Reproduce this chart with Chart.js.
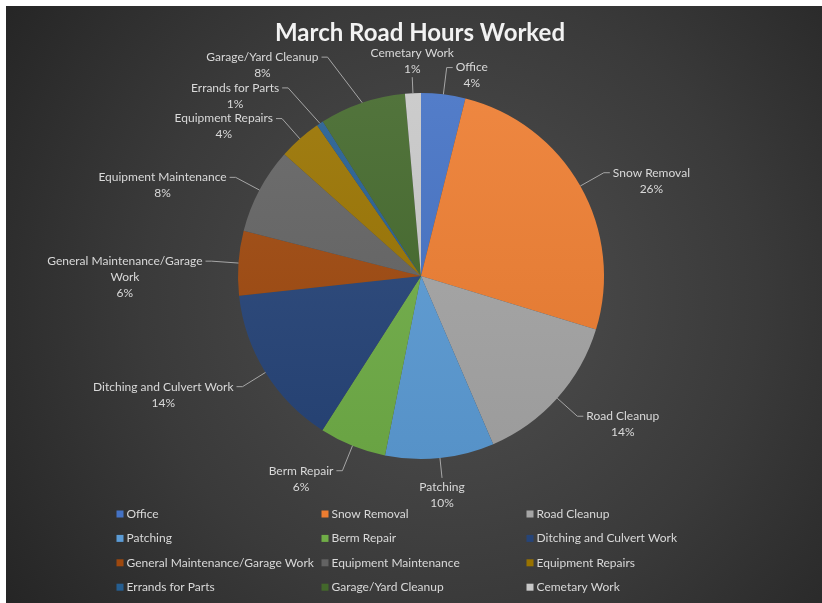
<!DOCTYPE html>
<html>
<head>
<meta charset="utf-8">
<script src="https://cdn.jsdelivr.net/npm/chart.js@4/dist/chart.umd.min.js"></script>
<style>
  html, body { margin: 0; padding: 0; background: #ffffff; }
  #wrap { width: 822px; height: 603px; position: relative; }
  canvas { display: block; }
</style>
</head>
<body>
<div id="wrap"><canvas id="c" width="822" height="603"></canvas></div>
<script>
// ---- data ----
const chartTitle = 'March Road Hours Worked';
const categories = [
  'Office', 'Snow Removal', 'Road Cleanup', 'Patching', 'Berm Repair',
  'Ditching and Culvert Work', 'General Maintenance/Garage Work',
  'Equipment Maintenance', 'Equipment Repairs', 'Errands for Parts',
  'Garage/Yard Cleanup', 'Cemetary Work'
];
const hours = [39, 258, 138, 96, 59, 142, 57, 76, 38, 6, 76, 14];
const sliceColors = [
  '#4472C4', '#ED7D31', '#A5A5A5', '#5B9BD5', '#70AD47', '#264478',
  '#9E480E', '#636363', '#997300', '#255E91', '#43682B', '#C8C8C8'
];

// ---- helpers ----
const FONT = 'Lato, "Open Sans", sans-serif';
const TEXT_COLOR = '#D9D9D9';
const LEADER_COLOR = '#A6A6A6';
const LH = 16;

function shade(hex, amt) {
  const n = parseInt(hex.slice(1), 16);
  const r = (n >> 16) & 255, g = (n >> 8) & 255, b = n & 255;
  const f = (c) => amt >= 0 ? Math.round(c + (255 - c) * amt) : Math.round(c * (1 + amt));
  return 'rgb(' + f(r) + ',' + f(g) + ',' + f(b) + ')';
}

function wrapText(ctx, text, maxW) {
  const words = text.split(' ');
  const lines = [];
  let cur = '';
  for (const w of words) {
    const test = cur ? cur + ' ' + w : w;
    if (ctx.measureText(test).width > maxW && cur) { lines.push(cur); cur = w; }
    else cur = test;
  }
  if (cur) lines.push(cur);
  return lines;
}

// ---- plugins ----
const backgroundPlugin = {
  id: 'bgPlugin',
  beforeDraw(chart) {
    const { ctx, width, height } = chart;
    ctx.save();
    ctx.fillStyle = '#ffffff';
    ctx.fillRect(0, 0, width, height);
    const g = ctx.createRadialGradient(450, 300, 0, 450, 300, 560);
    g.addColorStop(0, '#505050');
    g.addColorStop(0.55, '#3a3a3a');
    g.addColorStop(1, '#232323');
    ctx.fillStyle = g;
    ctx.fillRect(6, 6, width - 6, height - 6);
    ctx.restore();
  }
};

const titlePlugin = {
  id: 'titlePlugin',
  afterDraw(chart) {
    const { ctx } = chart;
    const cx = (chart.chartArea.left + chart.chartArea.right) / 2;
    ctx.save();
    ctx.font = 'bold 24px ' + FONT;
    ctx.fillStyle = '#F2F2F2';
    ctx.textAlign = 'center';
    ctx.textBaseline = 'middle';
    ctx.fillText(chartTitle, cx - 1, 33);
    ctx.restore();
  }
};

function layoutLines(ctx, it) {
  const ws = it.lines.map(l => ctx.measureText(l).width);
  const w = Math.max(...ws);
  let centerX, firstY;
  if (it.type === 'right') { centerX = it.A.x + 9 + w / 2; firstY = it.A.y; }
  else if (it.type === 'left') { centerX = it.A.x - 9 - w / 2; firstY = it.A.y; }
  else if (it.type === 'top') { centerX = it.A.x; firstY = it.A.y - 8 - (it.lines.length - 1) * LH; }
  else { centerX = it.A.x; firstY = it.A.y + 9; }
  return it.lines.map((t, k) => ({
    t, x: centerX, y: firstY + k * LH,
    x1: centerX - ws[k] / 2 - 2, x2: centerX + ws[k] / 2 + 2,
    y1: firstY + k * LH - 7, y2: firstY + k * LH + 7
  }));
}

function collides(a, b) {
  return a.some(p => b.some(q => p.x1 < q.x2 && q.x1 < p.x2 && p.y1 < q.y2 && q.y1 < p.y2));
}

const labelPlugin = {
  id: 'pieLabels',
  afterDatasetsDraw(chart) {
    const { ctx } = chart;
    const meta = chart.getDatasetMeta(0);
    const total = hours.reduce((a, b) => a + b, 0);
    ctx.save();
    ctx.font = '12px ' + FONT;
    const items = meta.data.map((arc, i) => {
      const p = arc.getProps(['x', 'y', 'startAngle', 'endAngle', 'outerRadius'], true);
      const mid = (p.startAngle + p.endAngle) / 2;
      const ux = Math.cos(mid), uy = Math.sin(mid);
      const r = p.outerRadius;
      const E = { x: p.x + r * ux, y: p.y + r * uy };
      const pct = Math.round(hours[i] / total * 100) + '%';
      const lines = wrapText(ctx, categories[i], 160);
      lines.push(pct);
      let type, L;
      if (Math.abs(ux) < 0.115) { type = uy < 0 ? 'top' : 'bottom'; L = uy < 0 ? 16 : 20; }
      else { type = ux > 0 ? 'right' : 'left'; L = 27; }
      const A = { x: p.x + (r + L) * ux, y: p.y + (r + L) * uy };
      return { i, E, A, cy: p.y, lines, type };
    });

    // place labels, nudging up/down and outward on collision
    const placed = [];
    items.filter(it => it.type === 'top' || it.type === 'bottom').forEach(it => {
      it.boxes = layoutLines(ctx, it); placed.push(it.boxes);
    });
    ['left', 'right'].forEach(side => {
      const sx = side === 'left' ? -1 : 1;
      const list = items.filter(it => it.type === side);
      const upper = list.filter(it => it.A.y < it.cy).sort((a, b) => b.A.y - a.A.y);
      const lower = list.filter(it => it.A.y >= it.cy).sort((a, b) => a.A.y - b.A.y);
      [[upper, -1], [lower, 1]].forEach(([grp, dy]) => {
        grp.forEach(it => {
          let bx = layoutLines(ctx, it), n = 0;
          while (placed.some(pb => collides(bx, pb)) && n < 200) {
            it.A.y += dy; it.A.x += sx * 1.3; n++;
            bx = layoutLines(ctx, it);
          }
          it.boxes = bx; placed.push(bx);
        });
      });
    });

    ctx.strokeStyle = LEADER_COLOR;
    ctx.lineWidth = 1;
    ctx.fillStyle = TEXT_COLOR;
    ctx.textBaseline = 'middle';
    ctx.textAlign = 'center';
    items.forEach(it => {
      ctx.beginPath();
      ctx.moveTo(it.E.x, it.E.y);
      ctx.lineTo(it.A.x, it.A.y);
      if (it.type === 'right') ctx.lineTo(it.A.x + 6, it.A.y);
      if (it.type === 'left') ctx.lineTo(it.A.x - 6, it.A.y);
      ctx.stroke();
      it.boxes.forEach(b => ctx.fillText(b.t, b.x, b.y));
    });
    ctx.restore();
  }
};

const legendPlugin = {
  id: 'gridLegend',
  afterDraw(chart) {
    const { ctx } = chart;
    const cols = 3, colW = 205, rowH = 24.4;
    const cx = (chart.chartArea.left + chart.chartArea.right) / 2;
    const x0 = cx - (cols * colW) / 2 + 3;
    const y0 = chart.chartArea.bottom + 55;
    ctx.save();
    ctx.font = '12px ' + FONT;
    ctx.textBaseline = 'middle';
    ctx.textAlign = 'left';
    categories.forEach((name, i) => {
      const c = i % cols, r = Math.floor(i / cols);
      const x = x0 + c * colW, y = y0 + r * rowH;
      ctx.fillStyle = sliceColors[i];
      ctx.fillRect(x, y - 3.5, 7, 7);
      ctx.fillStyle = TEXT_COLOR;
      ctx.fillText(name, x + 10, y);
    });
    ctx.restore();
  }
};

// ---- chart ----
const ctx = document.getElementById('c').getContext('2d');
new Chart(ctx, {
  type: 'pie',
  data: {
    labels: categories,
    datasets: [{
      data: hours,
      backgroundColor: (context) => {
        const base = sliceColors[context.dataIndex];
        const area = context.chart.chartArea;
        if (!area) return base;
        const g = context.chart.ctx.createLinearGradient(0, area.top, 0, area.bottom);
        g.addColorStop(0, shade(base, 0.08));
        g.addColorStop(1, shade(base, -0.06));
        return g;
      },
      borderWidth: 0,
      hoverOffset: 0
    }]
  },
  options: {
    responsive: false,
    devicePixelRatio: 1,
    animation: false,
    layout: { padding: { top: 93, bottom: 144, left: 100, right: 80 } },
    plugins: {
      legend: { display: false },
      title: { display: false },
      tooltip: { enabled: false }
    }
  },
  plugins: [backgroundPlugin, labelPlugin, titlePlugin, legendPlugin]
});
</script>
</body>
</html>
